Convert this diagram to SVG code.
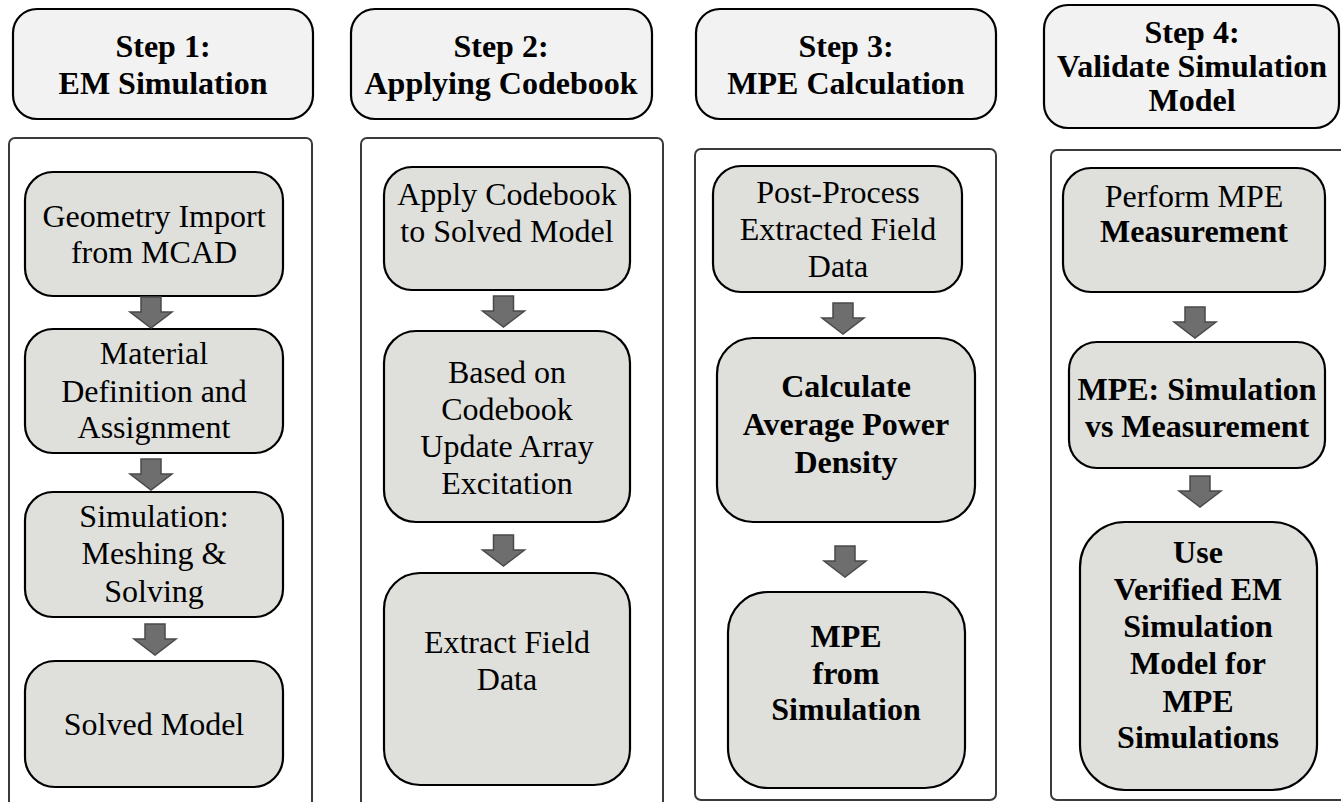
<svg xmlns="http://www.w3.org/2000/svg" width="1341" height="802" viewBox="0 0 1341 802">
<style>
.hdr{fill:#f2f2f2;stroke:#000;stroke-width:2.2}
.ctr{fill:#fff;stroke:#3a3a3a;stroke-width:2}
.node{fill:#dfdfdb;stroke:#000;stroke-width:2.2}
.arr{fill:#6e6e6e;stroke:#4a4a4a;stroke-width:1.5;stroke-linejoin:miter}
text{font-family:"Liberation Serif","Times New Roman",serif;font-size:32px;text-anchor:middle;fill:#000}
.b{font-weight:bold}
</style>
<defs>
<path id="dn" d="M-10,0 H10 V15 H21 L0,31 L-21,15 H-10 Z"/>
</defs>
<rect width="1341" height="802" fill="#fff"/>

<g id="step1">
<rect class="hdr" x="13" y="9" width="300" height="110" rx="24"/>
<text class="b" x="163" y="57">Step 1:</text>
<text class="b" x="163" y="94">EM Simulation</text>
</g>
<g id="step2">
<rect class="hdr" x="351" y="9" width="301" height="110" rx="24"/>
<text class="b" x="501" y="57">Step 2:</text>
<text class="b" x="501" y="94">Applying Codebook</text>
</g>
<g id="step3">
<rect class="hdr" x="696" y="9" width="300" height="110" rx="24"/>
<text class="b" x="846" y="57">Step 3:</text>
<text class="b" x="846" y="94">MPE Calculation</text>
</g>
<g id="step4">
<rect class="hdr" x="1044" y="5" width="295" height="123" rx="24"/>
<text class="b" x="1192" y="43">Step 4:</text>
<text class="b" x="1192" y="77">Validate Simulation</text>
<text class="b" x="1192" y="111">Model</text>
</g>

<g id="panel1"><rect class="ctr" x="9" y="138" width="303" height="700" rx="6"/></g>
<g id="panel2"><rect class="ctr" x="361" y="138" width="302" height="700" rx="6"/></g>
<g id="panel3"><rect class="ctr" x="695" y="149" width="301" height="651" rx="6"/></g>
<g id="panel4"><rect class="ctr" x="1051" y="150" width="300" height="650" rx="6"/></g>

<g id="geometry">
<rect class="node" x="25" y="172" width="258" height="124" rx="28"/>
<text x="154" y="227">Geometry Import</text>
<text x="154" y="263">from MCAD</text>
</g>
<g id="material">
<rect class="node" x="25" y="329" width="258" height="124" rx="28"/>
<text x="154" y="364">Material</text>
<text x="154" y="402">Definition and</text>
<text x="154" y="438">Assignment</text>
</g>
<g id="simulation">
<rect class="node" x="25" y="492" width="258" height="125" rx="28"/>
<text x="154" y="527">Simulation:</text>
<text x="154" y="564">Meshing &amp;</text>
<text x="154" y="602">Solving</text>
</g>
<g id="solved">
<rect class="node" x="25" y="661" width="258" height="126" rx="30"/>
<text x="154" y="735">Solved Model</text>
</g>

<g id="apply">
<rect class="node" x="384" y="167" width="246" height="123" rx="28"/>
<text x="507" y="205">Apply Codebook</text>
<text x="507" y="242">to Solved Model</text>
</g>
<g id="update">
<rect class="node" x="384" y="331" width="246" height="191" rx="32"/>
<text x="507" y="383">Based on</text>
<text x="507" y="420">Codebook</text>
<text x="507" y="457">Update Array</text>
<text x="507" y="494">Excitation</text>
</g>
<g id="extract">
<rect class="node" x="384" y="573" width="246" height="212" rx="36"/>
<text x="507" y="653">Extract Field</text>
<text x="507" y="690">Data</text>
</g>

<g id="postprocess">
<rect class="node" x="713" y="166" width="249" height="126" rx="28"/>
<text x="838" y="203">Post-Process</text>
<text x="838" y="240">Extracted Field</text>
<text x="838" y="277">Data</text>
</g>
<g id="calculate">
<rect class="node" x="717" y="338" width="258" height="184" rx="36"/>
<text class="b" x="846" y="397">Calculate</text>
<text class="b" x="846" y="435">Average Power</text>
<text class="b" x="846" y="473">Density</text>
</g>
<g id="mpesim">
<rect class="node" x="728" y="592" width="237" height="196" rx="40"/>
<text class="b" x="846" y="647">MPE</text>
<text class="b" x="846" y="684">from</text>
<text class="b" x="846" y="720">Simulation</text>
</g>

<g id="perform">
<rect class="node" x="1063" y="168" width="262" height="124" rx="28"/>
<text x="1194" y="207">Perform MPE</text>
<text class="b" x="1194" y="242">Measurement</text>
</g>
<g id="compare">
<rect class="node" x="1069" y="342" width="256" height="126" rx="28"/>
<text class="b" x="1197" y="400">MPE: Simulation</text>
<text class="b" x="1197" y="437">vs Measurement</text>
</g>
<g id="useverified">
<rect class="node" x="1080" y="522" width="237" height="268" rx="45"/>
<text class="b" x="1198" y="563">Use</text>
<text class="b" x="1198" y="600">Verified EM</text>
<text class="b" x="1198" y="637">Simulation</text>
<text class="b" x="1198" y="674">Model for</text>
<text class="b" x="1198" y="712">MPE</text>
<text class="b" x="1198" y="748">Simulations</text>
</g>

<g id="connectors">
<use href="#dn" class="arr" transform="translate(151,297)"/>
<use href="#dn" class="arr" transform="translate(151,459)"/>
<use href="#dn" class="arr" transform="translate(155,624)"/>
<use href="#dn" class="arr" transform="translate(503.5,296)"/>
<use href="#dn" class="arr" transform="translate(503.5,535)"/>
<use href="#dn" class="arr" transform="translate(843,303)"/>
<use href="#dn" class="arr" transform="translate(845,546)"/>
<use href="#dn" class="arr" transform="translate(1195,307)"/>
<use href="#dn" class="arr" transform="translate(1200,476)"/>
</g>
</svg>
